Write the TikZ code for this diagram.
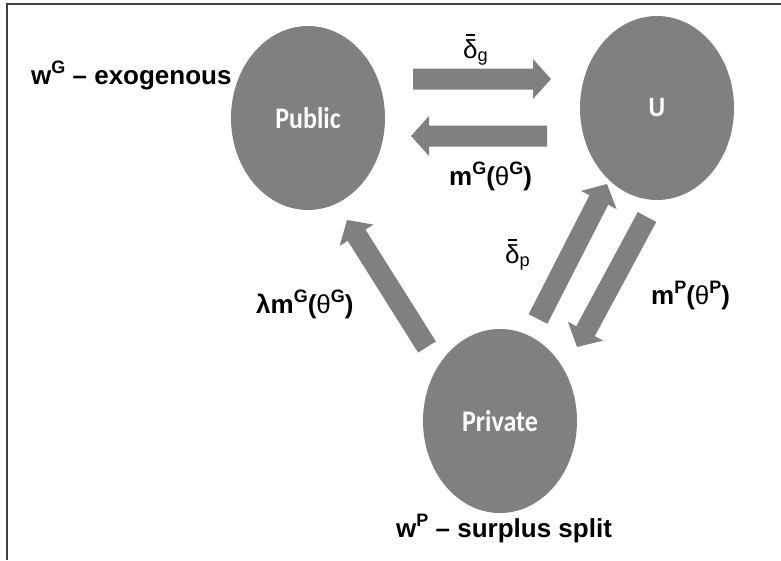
\documentclass[tikz,border=0pt]{standalone}
\usepackage{fontspec}
\setmainfont{Liberation Sans}
\newfontfamily\calfont{Carlito}
\usetikzlibrary{shapes.geometric,calc}
\newcommand\dbar{\ooalign{δ\cr\hidewidth\raisebox{0.86em}{\rule{0.34em}{0.07em}}\hidewidth\cr}}
\newcommand\sups[1]{\raisebox{0.42em}{\fontsize{18}{18}\selectfont #1}}
\newcommand\barrow[2]{%
  \coordinate (bh) at ($(#2)!18pt!(#1)$);
  \fill[blk] ($(#1)!10.5pt!-90:(#2)$) -- ($(bh)!10.5pt!90:(#1)$) -- ($(bh)!20pt!90:(#1)$) -- (#2)
    -- ($(bh)!20pt!-90:(#1)$) -- ($(bh)!10.5pt!-90:(#1)$) -- ($(#1)!10.5pt!90:(#2)$) -- cycle;}
\begin{document}
\begin{tikzpicture}[x=1pt,y=-1pt,
  blob/.style={ellipse, fill=gray, draw=none, minimum width=154pt, minimum height=184pt,
    inner sep=0pt, text=white, font=\calfont\bfseries\fontsize{26}{26}\selectfont},
  lbl/.style={inner sep=0pt, anchor=base west, font=\bfseries\fontsize{26}{30}\selectfont},
  blk/.style={fill=gray},
  frame/.style={draw=black!75, line width=1.3pt}]
\useasboundingbox (0,0) rectangle (781,560);
\draw[frame] (7,560) -- (7,4) -- (781,4);
% nodes
\node[blob] (pub) at (308,118) {\scalebox{1}[1.15]{Public}};
\node[blob] (u) at (657,108) {\rmfamily\bfseries\fontsize{23}{23}\selectfont\scalebox{1}[1.15]{U}};
\node[blob] (priv) at (500,421) {\scalebox{1}[1.15]{Private}};
% block arrows
\coordinate (a1s) at (413,79);  \coordinate (a1e) at (551,79);
\coordinate (a2s) at (547,136); \coordinate (a2e) at (411,136);
\coordinate (a3s) at (427,347); \coordinate (a3e) at (347,220);
\coordinate (a4s) at (538,319); \coordinate (a4e) at (607,184);
\coordinate (a5s) at (647,217); \coordinate (a5e) at (577,347);
\barrow{a1s}{a1e}
\barrow{a2s}{a2e}
\barrow{a3s}{a3e}
\barrow{a4s}{a4e}
\barrow{a5s}{a5e}
% labels
\node[lbl] (wg) at (31,84) {w\sups{G} – exogenous};
\node[lbl] (dg) at (463,58) {\mdseries\dbar\textsubscript{g}};
\node[lbl] (mg) at (449,185) {m\sups{G}({\mdseries θ}\sups{G})};
\node[lbl] (lmg) at (256,313) {λm\sups{G}({\mdseries θ}\sups{G})};
\node[lbl] (dp) at (505,263) {\mdseries\dbar\textsubscript{p}};
\node[lbl] (mp) at (651,304) {m\sups{P}({\mdseries θ}\sups{P})};
\node[lbl] (wp) at (396,537) {w\sups{P} – surplus split};
\end{tikzpicture}
\end{document}
